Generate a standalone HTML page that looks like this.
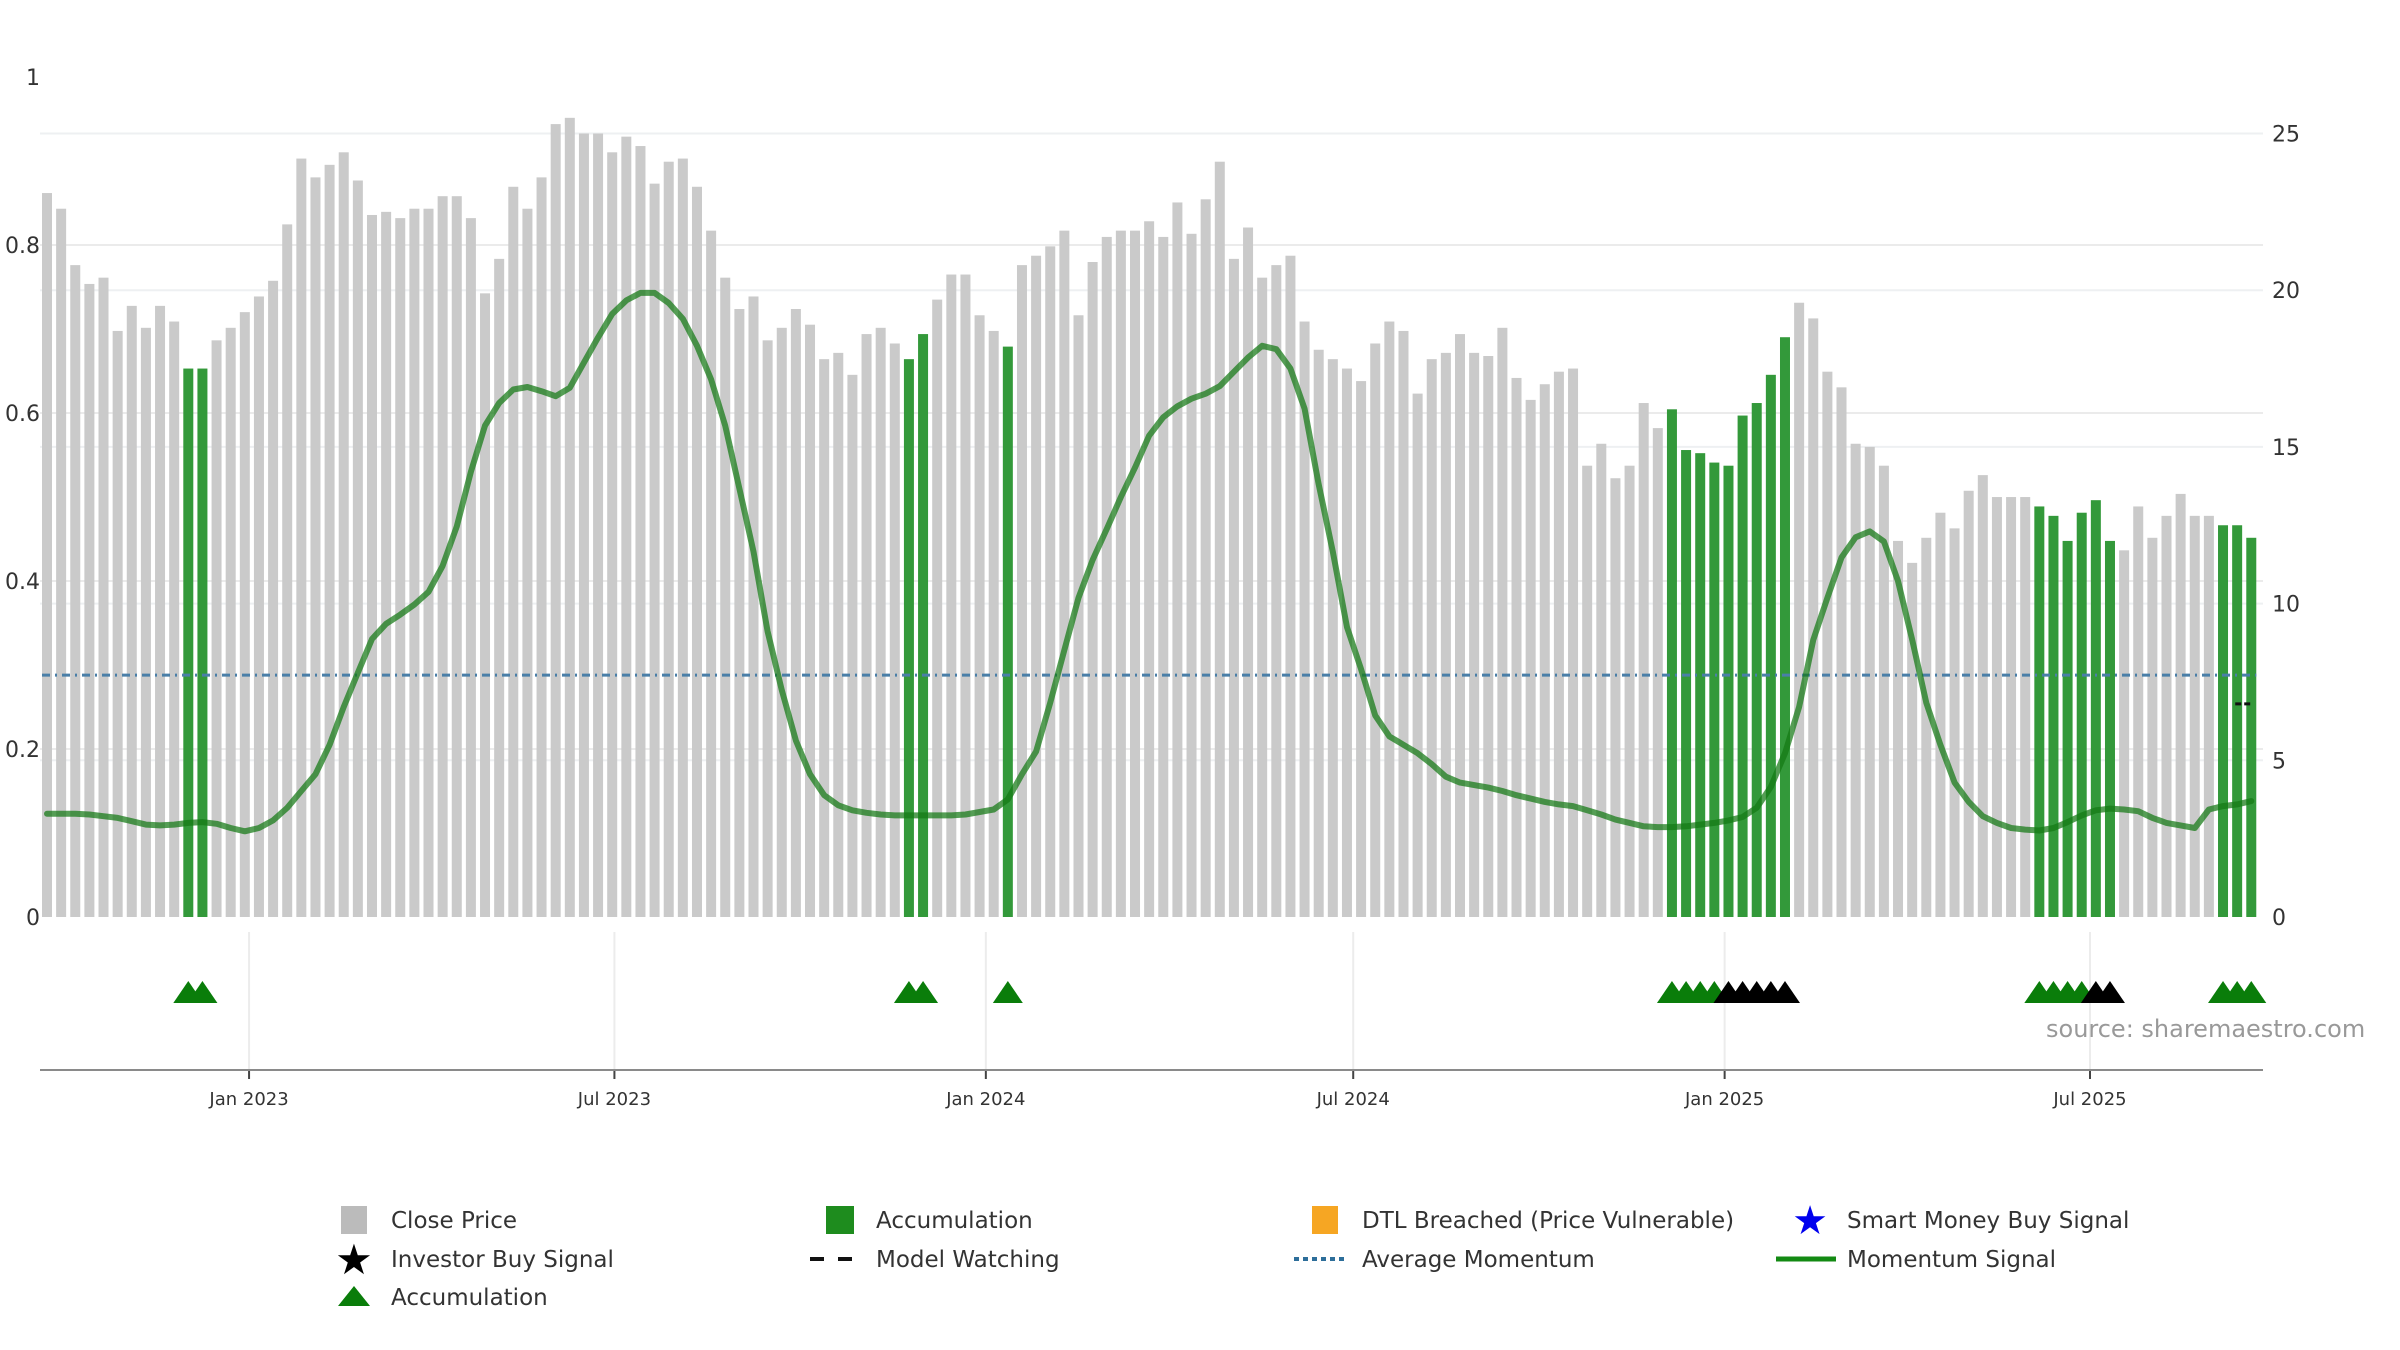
<!DOCTYPE html>
<html><head><meta charset="utf-8"><style>
html,body{margin:0;padding:0;background:#fff;}
svg{display:block;font-family:"DejaVu Sans","Liberation Sans",sans-serif;}
</style></head><body>
<svg id="chart" width="2400" height="1350" viewBox="0 0 2400 1350" xmlns="http://www.w3.org/2000/svg">
<g id="grid"></g>
<g id="bars"></g>
<g id="lines"></g>
<g id="axes"></g>
<g id="markers"></g>
<text x="2046" y="1037" font-size="24" fill="#999">source: sharemaestro.com</text>
<g id="legend"></g>
</svg>
<script>
const prices = [23.1,22.6,20.8,20.2,20.4,18.7,19.5,18.8,19.5,19.0,17.5,17.5,18.4,18.8,19.3,19.8,20.3,22.1,24.2,23.6,24.0,24.4,23.5,22.4,22.5,22.3,22.6,22.6,23.0,23.0,22.3,19.9,21.0,23.3,22.6,23.6,25.3,25.5,25.0,25.0,24.4,24.9,24.6,23.4,24.1,24.2,23.3,21.9,20.4,19.4,19.8,18.4,18.8,19.4,
18.9,17.8,18.0,17.3,18.6,18.8,18.3,17.8,18.6,19.7,20.5,20.5,19.2,18.7,18.2,20.8,21.1,21.4,21.9,19.2,20.9,21.7,21.9,21.9,22.2,21.7,22.8,21.8,22.9,24.1,21.0,22.0,20.4,20.8,21.1,19.0,18.1,17.8,17.5,17.1,18.3,19.0,18.7,16.7,17.8,18.0,18.6,18.0,17.9,18.8,17.2,16.5,17.0,17.4,17.5,14.4,15.1,
14.0,14.4,16.4,15.6,16.2,14.9,14.8,14.5,14.4,16.0,16.4,17.3,18.5,19.6,19.1,17.4,16.9,15.1,15.0,14.4,12.0,11.3,12.1,12.9,12.4,13.6,14.1,13.4,13.4,13.4,13.1,12.8,12.0,12.9,13.3,12.0,11.7,13.1,12.1,12.8,13.5,12.8,12.8,12.5,12.5,12.1];
const momentum = [.123,.123,.123,.122,.120,.118,.114,.110,.109,.110,
.112,.113,.111,.106,.102,.106,.115,.130,.150,.170,
.205,.250,.291,.331,.349,.360,.372,.387,.418,.465,
.530,.585,.612,.628,.631,.626,.620,.630,.660,.690,
.718,.734,.743,.743,.731,.712,.680,.640,.585,.510,
.435,.340,.270,.210,.170,.145,.133,.127,.124,.122,
.121,.121,.121,.121,.121,.122,.125,.128,.140,.170,
.197,.255,.318,.380,.425,.462,.500,.535,.573,.595,
.608,.617,.623,.632,.649,.666,.680,.676,.653,.605,
.515,.435,.345,.295,.240,.215,.205,.195,.182,.167,
.160,.157,.154,.150,.145,.141,.137,.134,.132,.127,
.122,.116,.112,.108,.107,.107,.108,.110,.112,.115,
.119,.130,.155,.195,.250,.330,.380,.428,.452,.459,
.447,.400,.330,.255,.205,.160,.137,.120,.112,.106,
.104,.103,.106,.113,.121,.127,.129,.128,.126,.118,
.112,.109,.106,.128,.132,.134,.138];
const accumulationBars = [10,11,61,62,68,115,116,117,118,119,120,121,122,123,141,142,143,144,145,146,154,155,156];
const accumulationTriangles = [10,11,61,62,68,115,116,117,118,141,142,143,144,154,155,156];
const investorTriangles = [119,120,121,122,123,145,146];
const averageMomentum = [0.288];
const modelWatching = [{i:155.5, v:6.8}];
const leftTicks = [0,0.2,0.4,0.6,0.8,1];
const leftTickLabels = ["0","0.2","0.4","0.6","0.8","1"];
const rightTicks = [0,5,10,15,20,25];
const dateTickLabels = ["Jan 2023","Jul 2023","Jan 2024","Jul 2024","Jan 2025","Jul 2025"];
const dateTickDays = [0,181,365,547,731,912];

const NS="http://www.w3.org/2000/svg";
const X0=47, STEP=14.13, PL=40, PR=2263, YB=917, YT_L=77, R25=133.5;
const firstTickIndex=14.3;
function xi(i){return X0+i*STEP;}
function xd(d){return X0+(firstTickIndex+d/7)*STEP;}
function yl(v){return YB-(YB-YT_L)*v;}
function yr(v){return YB-(YB-R25)*v/25;}
function mk(tag,attrs,parent){const e=document.createElementNS(NS,tag);for(const k in attrs)e.setAttribute(k,attrs[k]);parent.appendChild(e);return e;}
const grid=document.getElementById('grid'),bars=document.getElementById('bars'),lines=document.getElementById('lines'),axes=document.getElementById('axes'),markers=document.getElementById('markers'),legend=document.getElementById('legend');

leftTicks.forEach((t,k)=>{
  if(t>0&&t<1){const g=mk('line',{x1:PL,x2:PR,y1:yl(t),y2:yl(t),stroke:'#ebebeb','stroke-width':2},grid);
  
  }
  const tx=mk('text',{x:40,y:yl(t)+8,'font-size':22,fill:'#333','text-anchor':'end'},axes);
  
  
  tx.textContent=leftTickLabels[k];
});
rightTicks.forEach(t=>{
  if(t>0){const g=mk('line',{x1:PL,x2:PR,y1:yr(t),y2:yr(t),stroke:'#eef0f2','stroke-width':2},grid);
  
  }
  const tx=mk('text',{x:2272,y:yr(t)+8,'font-size':22,fill:'#333'},axes);
  
  
  tx.textContent=String(t);
});
dateTickDays.forEach((d,k)=>{
  const x=xd(d);
  const g=mk('line',{x1:x,x2:x,y1:932,y2:1070,stroke:'#ececec','stroke-width':2},grid);
  
  
  const tk=mk('line',{x1:x,x2:x,y1:1070,y2:1079,stroke:'#444','stroke-width':2},axes);
  
  
  const tx=mk('text',{x:x,y:1105,'font-size':18,fill:'#333','text-anchor':'middle'},axes);
  
  
  tx.textContent=dateTickLabels[k];
});
const ax=mk('line',{x1:PL,x2:PR,y1:1070,y2:1070,stroke:'#8a8a8a','stroke-width':2},axes);



prices.forEach((p,i)=>{
  const acc=accumulationBars.indexOf(i)>=0;
  const r=mk('rect',{x:xi(i)-5,y:yr(p),width:10,height:YB-yr(p),fill:acc?'#33993a':'#cacaca'},bars);
  
  
});

const av=mk('line',{x1:xi(0)-5,x2:xi(prices.length-1)+5,y1:yl(averageMomentum[0]),y2:yl(averageMomentum[0]),stroke:'#4a7fa8','stroke-width':3,'stroke-dasharray':'8,5,2,5'},lines);



const pts=momentum.map((v,i)=>xi(i).toFixed(1)+','+yl(v).toFixed(1)).join(' ');
const ml=mk('polyline',{points:pts,fill:'none',stroke:'rgba(20,120,20,0.72)','stroke-width':6,'stroke-linejoin':'round','stroke-linecap':'round'},lines);



modelWatching.forEach(m=>{
  const d=mk('line',{x1:xi(m.i)-9,x2:xi(m.i)+9,y1:yr(m.v),y2:yr(m.v),stroke:'#111','stroke-width':3,'stroke-dasharray':'6,3'},lines);
  
  
});

function tri(i,color,name){
  const x=xi(i);
  const t=mk('polygon',{points:`${x-15},1003 ${x},981 ${x+15},1003`,fill:color},markers);
  
  
}
accumulationTriangles.forEach(i=>tri(i,'#0a7d0a','accumulation-triangle'));
investorTriangles.forEach(i=>tri(i,'#000','investor-buy-triangle'));

function ltext(x,y,s,name){const t=mk('text',{x:x-4,y:y+8,'font-size':23,fill:'#333'},legend);
  
  
  t.textContent=s;}
const R1=1220,R2=1259,R3=1297;
let e;
e=mk('rect',{x:341,y:R1-14,width:26,height:28,fill:'#bbbbbb'},legend);


ltext(395,R1,'Close Price','legend-close-price');
e=mk('rect',{x:826,y:R1-14,width:28,height:28,fill:'#1e8c1e'},legend);


ltext(880,R1,'Accumulation','legend-accumulation-bar');
e=mk('rect',{x:1312,y:R1-14,width:26,height:28,fill:'#f6a623'},legend);


ltext(1366,R1,'DTL Breached (Price Vulnerable)','legend-dtl-breached');
e=mk('text',{x:1810,y:R1+14,'font-size':40,fill:'#0000ee','text-anchor':'middle'},legend);


e.textContent='★';
ltext(1851,R1,'Smart Money Buy Signal','legend-smart-money');
e=mk('text',{x:354,y:R2+15,'font-size':42,fill:'#000','text-anchor':'middle'},legend);


e.textContent='★';
ltext(395,R2,'Investor Buy Signal','legend-investor-buy');
e=mk('line',{x1:810,x2:862,y1:R2,y2:R2,stroke:'#111','stroke-width':4,'stroke-dasharray':'14,14'},legend);


ltext(880,R2,'Model Watching','legend-model-watching');
e=mk('line',{x1:1294,x2:1346,y1:R2,y2:R2,stroke:'#2d6e9a','stroke-width':4,'stroke-dasharray':'5,4'},legend);


ltext(1366,R2,'Average Momentum','legend-average-momentum');
e=mk('line',{x1:1776,x2:1836,y1:R2,y2:R2,stroke:'#138a13','stroke-width':5},legend);


ltext(1851,R2,'Momentum Signal','legend-momentum-signal');
e=mk('polygon',{points:`338,${R3+9} 354,${R3-11} 370,${R3+9}`,fill:'#0a7d0a'},legend);


ltext(395,R3,'Accumulation','legend-accumulation-triangle-label');
</script>
</body></html>
